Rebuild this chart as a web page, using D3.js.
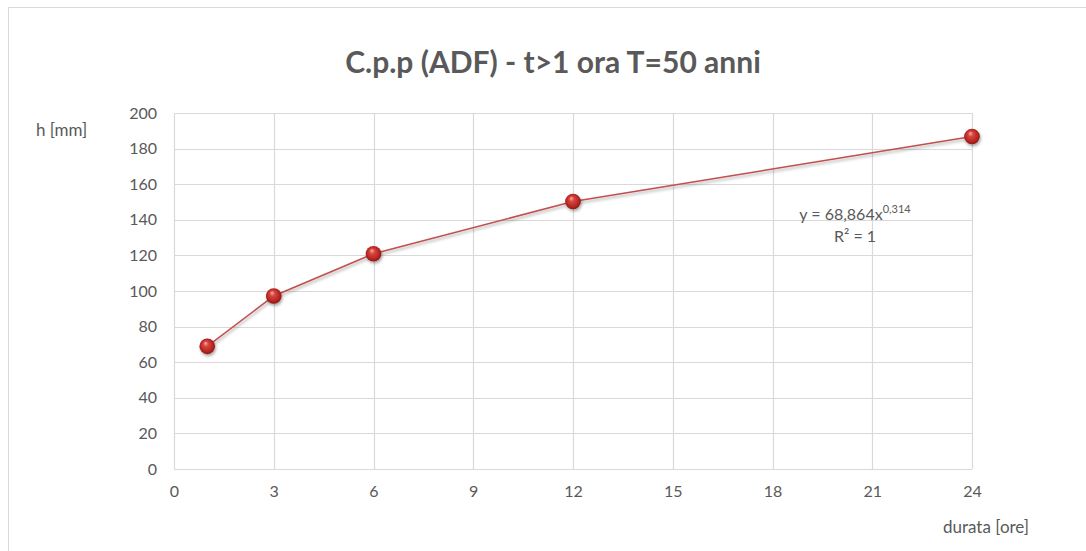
<!DOCTYPE html>
<html>
<head>
<meta charset="utf-8">
<script src="https://cdn.jsdelivr.net/npm/d3@7"></script>
<style>
  body { margin: 0; background: #fff; }
  svg { display: block; font-family: Lato, "Open Sans", sans-serif; }
</style>
</head>
<body>
<svg id="chart"></svg>
<script>
// Chart data
const durations = [1, 3, 6, 12, 24];
const heights = [68.9, 97.2, 120.9, 150.3, 186.8];
const xTicks = [0, 3, 6, 9, 12, 15, 18, 21, 24];
const yTicks = [0, 20, 40, 60, 80, 100, 120, 140, 160, 180, 200];
const titleText = "C.p.p (ADF) - t>1 ora T=50 anni";
const yLabel = "h [mm]";
const xLabel = "durata [ore]";

const width = 1086;
const height = 551;
const plot = {left: 174, right: 972, top: 113, bottom: 469};
const textGrey = "#595959";
const gridGrey = "#d9d9d9";
const lineRed = "#c0504d";

const svg = d3.select("#chart")
	.attr("width", width)
	.attr("height", height);

// Outer chart border (right and bottom edges run off the page)
svg.append("rect")
	.attr("x", 8.5).attr("y", 7.5)
	.attr("width", 1100).attr("height", 600)
	.attr("fill", "#fff")
	.attr("stroke", gridGrey);

const x = d3.scaleLinear().domain([0, 24]).range([plot.left, plot.right]);
const y = d3.scaleLinear().domain([0, 200]).range([plot.bottom, plot.top]);

// Gridlines
svg.append("g")
	.selectAll("line")
	.data(yTicks)
	.join("line")
	.attr("x1", plot.left).attr("x2", plot.right)
	.attr("y1", d => Math.round(y(d)) + 0.5)
	.attr("y2", d => Math.round(y(d)) + 0.5)
	.attr("stroke", gridGrey)
	.attr("stroke-width", 1.2);

svg.append("g")
	.selectAll("line")
	.data(xTicks)
	.join("line")
	.attr("y1", plot.top).attr("y2", plot.bottom)
	.attr("x1", d => Math.round(x(d)) + 0.5)
	.attr("x2", d => Math.round(x(d)) + 0.5)
	.attr("stroke", gridGrey)
	.attr("stroke-width", 1.2);

// Axis labels from the scales
const yAxis = d3.axisLeft(y).tickValues(yTicks).tickSize(0).tickPadding(17);
svg.append("g")
	.attr("transform", `translate(${plot.left},0)`)
	.call(yAxis)
	.call(g => g.select(".domain").remove())
	.selectAll("text")
	.attr("fill", textGrey)
	.style("font-size", "16px")
	.style("font-family", "Lato, 'Open Sans', sans-serif");

const xAxis = d3.axisBottom(x).tickValues(xTicks).tickSize(0).tickPadding(17);
svg.append("g")
	.attr("transform", `translate(0,${plot.bottom})`)
	.call(xAxis)
	.call(g => g.select(".domain").remove())
	.selectAll("text")
	.attr("fill", textGrey)
	.style("font-size", "16px")
	.style("font-family", "Lato, 'Open Sans', sans-serif");

// Title
svg.append("text")
	.attr("x", 553).attr("y", 73)
	.attr("text-anchor", "middle")
	.attr("fill", textGrey)
	.style("font-size", "30px")
	.style("font-weight", "bold")
	.text(titleText);

// Axis titles
svg.append("text")
	.attr("x", 36).attr("y", 136)
	.attr("fill", textGrey)
	.style("font-size", "17px")
	.text(yLabel);

svg.append("text")
	.attr("x", 986).attr("y", 533)
	.attr("text-anchor", "middle")
	.attr("fill", textGrey)
	.style("font-size", "17px")
	.text(xLabel);

// Trendline label
const eq = svg.append("text")
	.attr("x", 855).attr("y", 220)
	.attr("text-anchor", "middle")
	.attr("fill", textGrey)
	.style("font-size", "16px");
eq.append("tspan").text("y = 68,864x");
eq.append("tspan").attr("dy", -7).style("font-size", "11px").text("0,314");

svg.append("text")
	.attr("x", 855).attr("y", 242)
	.attr("text-anchor", "middle")
	.attr("fill", textGrey)
	.style("font-size", "16px")
	.text("R² = 1");

// Marker gradient and shadow
const defs = svg.append("defs");
const grad = defs.append("radialGradient")
	.attr("id", "ball")
	.attr("cx", "50%").attr("cy", "50%").attr("r", "55%")
	.attr("fx", "38%").attr("fy", "28%");
grad.append("stop").attr("offset", "0%").attr("stop-color", "#f7b3b0");
grad.append("stop").attr("offset", "30%").attr("stop-color", "#d9453f");
grad.append("stop").attr("offset", "75%").attr("stop-color", "#b3241f");
grad.append("stop").attr("offset", "100%").attr("stop-color", "#7c1512");

const shadow = defs.append("filter")
	.attr("id", "shadow")
	.attr("x", "-50%").attr("y", "-50%").attr("width", "200%").attr("height", "200%");
shadow.append("feDropShadow")
	.attr("dx", 1).attr("dy", 2).attr("stdDeviation", 1.8)
	.attr("flood-color", "#000").attr("flood-opacity", 0.35);

const points = durations.map((d, i) => [d, heights[i]]);

// Series line
svg.append("path")
	.datum(points)
	.attr("fill", "none")
	.attr("stroke", lineRed)
	.attr("stroke-width", 1.5)
	.attr("filter", "url(#shadow)")
	.attr("d", d3.line().x(d => x(d[0])).y(d => y(d[1])));

// Markers
svg.append("g")
	.selectAll("circle")
	.data(points)
	.join("circle")
	.attr("cx", d => x(d[0]))
	.attr("cy", d => y(d[1]))
	.attr("r", 7.8)
	.attr("fill", "url(#ball)")
	.attr("filter", "url(#shadow)");
</script>
</body>
</html>
